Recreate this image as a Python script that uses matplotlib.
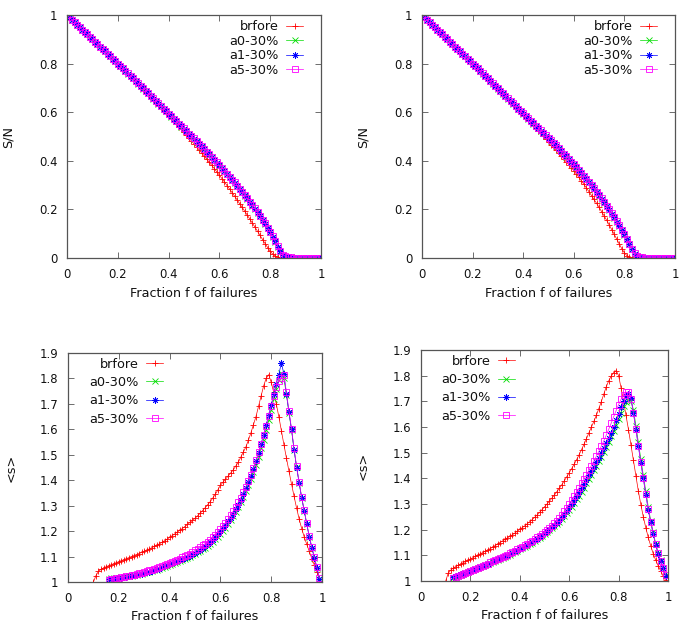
import numpy as np
import matplotlib
matplotlib.use("Agg")
import matplotlib.pyplot as plt
from matplotlib.ticker import FormatStrFormatter

# griglia delle frazioni f (passo 0.01)
frac = np.round(np.arange(0, 101) / 100, 2)

labels = ["brfore", "a0-30%", "a1-30%", "a5-30%"]

# ---- S/N, pannello in alto a sinistra
tl_brfore = [1.000, 0.990, 0.980, 0.970, 0.960, 0.950, 0.940, 0.930, 0.920, 0.910,
             0.900, 0.890, 0.880, 0.870, 0.860, 0.850, 0.840, 0.830, 0.820, 0.809,
             0.799, 0.789, 0.779, 0.768, 0.758, 0.748, 0.737, 0.727, 0.716, 0.706,
             0.695, 0.685, 0.674, 0.663, 0.653, 0.642, 0.631, 0.620, 0.609, 0.598,
             0.587, 0.575, 0.564, 0.553, 0.541, 0.530, 0.518, 0.506, 0.494, 0.482,
             0.470, 0.458, 0.445, 0.433, 0.420, 0.407, 0.394, 0.381, 0.368, 0.354,
             0.341, 0.327, 0.313, 0.298, 0.284, 0.269, 0.254, 0.239, 0.223, 0.208,
             0.192, 0.176, 0.160, 0.143, 0.127, 0.110, 0.093, 0.076, 0.059, 0.043,
             0.028, 0.016, 0.008, 0.004, 0.002, 0.001, 0.001, 0.000, 0.000, 0.000,
             0.000, 0.000, 0.000, 0.000, 0.000, 0.000, 0.000, 0.000, 0.000, 0.000, 0.000]
tl_a0 = [1.000, 0.990, 0.980, 0.970, 0.960, 0.950, 0.940, 0.930, 0.920, 0.910,
         0.900, 0.890, 0.880, 0.870, 0.860, 0.850, 0.840, 0.830, 0.820, 0.810,
         0.800, 0.790, 0.780, 0.769, 0.759, 0.749, 0.739, 0.728, 0.718, 0.708,
         0.697, 0.687, 0.677, 0.666, 0.656, 0.645, 0.635, 0.624, 0.614, 0.603,
         0.593, 0.582, 0.572, 0.562, 0.551, 0.541, 0.531, 0.521, 0.510, 0.500,
         0.490, 0.479, 0.469, 0.458, 0.447, 0.436, 0.425, 0.414, 0.403, 0.392,
         0.380, 0.369, 0.357, 0.345, 0.333, 0.321, 0.309, 0.296, 0.283, 0.270,
         0.257, 0.244, 0.230, 0.216, 0.202, 0.187, 0.172, 0.156, 0.140, 0.123,
         0.105, 0.087, 0.067, 0.046, 0.026, 0.012, 0.006, 0.004, 0.003, 0.002,
         0.002, 0.001, 0.001, 0.001, 0.001, 0.001, 0.000, 0.000, 0.000, 0.000, 0.000]
tl_a1 = [1.000, 0.990, 0.980, 0.970, 0.960, 0.950, 0.940, 0.930, 0.920, 0.910,
         0.900, 0.890, 0.880, 0.870, 0.860, 0.850, 0.840, 0.830, 0.820, 0.810,
         0.800, 0.790, 0.780, 0.770, 0.759, 0.749, 0.739, 0.729, 0.718, 0.708,
         0.698, 0.687, 0.677, 0.667, 0.656, 0.646, 0.635, 0.625, 0.614, 0.604,
         0.593, 0.583, 0.573, 0.563, 0.552, 0.542, 0.532, 0.522, 0.511, 0.501,
         0.491, 0.481, 0.470, 0.459, 0.448, 0.437, 0.426, 0.415, 0.404, 0.393,
         0.381, 0.370, 0.358, 0.346, 0.334, 0.322, 0.310, 0.297, 0.284, 0.271,
         0.258, 0.245, 0.231, 0.217, 0.203, 0.188, 0.173, 0.157, 0.141, 0.124,
         0.106, 0.088, 0.068, 0.047, 0.027, 0.012, 0.006, 0.004, 0.003, 0.002,
         0.002, 0.001, 0.001, 0.001, 0.001, 0.001, 0.001, 0.000, 0.000, 0.000, 0.000]
tl_a5 = [1.000, 0.990, 0.980, 0.970, 0.960, 0.950, 0.940, 0.930, 0.920, 0.910,
         0.900, 0.890, 0.880, 0.870, 0.860, 0.850, 0.840, 0.830, 0.820, 0.810,
         0.800, 0.790, 0.780, 0.770, 0.760, 0.750, 0.740, 0.729, 0.719, 0.709,
         0.699, 0.688, 0.678, 0.668, 0.657, 0.647, 0.636, 0.626, 0.615, 0.605,
         0.594, 0.584, 0.574, 0.564, 0.553, 0.543, 0.533, 0.523, 0.512, 0.502,
         0.492, 0.482, 0.471, 0.460, 0.449, 0.438, 0.427, 0.416, 0.405, 0.394,
         0.382, 0.371, 0.359, 0.347, 0.335, 0.323, 0.311, 0.298, 0.285, 0.272,
         0.259, 0.246, 0.232, 0.218, 0.204, 0.189, 0.174, 0.158, 0.142, 0.125,
         0.107, 0.089, 0.069, 0.048, 0.028, 0.013, 0.007, 0.004, 0.003, 0.002,
         0.002, 0.002, 0.001, 0.001, 0.001, 0.001, 0.001, 0.001, 0.000, 0.000, 0.000]

# ---- S/N, pannello in alto a destra
tr_brfore = [1.000, 0.990, 0.980, 0.970, 0.960, 0.950, 0.940, 0.930, 0.920, 0.910,
             0.900, 0.890, 0.880, 0.870, 0.860, 0.850, 0.840, 0.830, 0.820, 0.810,
             0.800, 0.789, 0.779, 0.769, 0.759, 0.748, 0.738, 0.728, 0.717, 0.707,
             0.697, 0.686, 0.676, 0.665, 0.654, 0.644, 0.633, 0.622, 0.612, 0.601,
             0.590, 0.579, 0.568, 0.557, 0.546, 0.535, 0.524, 0.513, 0.502, 0.490,
             0.479, 0.467, 0.456, 0.444, 0.432, 0.420, 0.408, 0.396, 0.384, 0.372,
             0.360, 0.346, 0.332, 0.318, 0.303, 0.288, 0.273, 0.257, 0.241, 0.225,
             0.208, 0.191, 0.173, 0.155, 0.136, 0.117, 0.097, 0.077, 0.057, 0.038,
             0.021, 0.010, 0.004, 0.002, 0.001, 0.000, 0.000, 0.000, 0.000, 0.000,
             0.000, 0.000, 0.000, 0.000, 0.000, 0.000, 0.000, 0.000, 0.000, 0.000, 0.000]
tr_a0 = [1.000, 0.990, 0.980, 0.970, 0.960, 0.950, 0.940, 0.930, 0.920, 0.910,
         0.900, 0.890, 0.880, 0.870, 0.860, 0.850, 0.840, 0.830, 0.820, 0.810,
         0.800, 0.790, 0.780, 0.769, 0.759, 0.749, 0.739, 0.728, 0.718, 0.708,
         0.697, 0.687, 0.676, 0.666, 0.655, 0.645, 0.634, 0.624, 0.613, 0.603,
         0.593, 0.583, 0.573, 0.563, 0.553, 0.543, 0.533, 0.523, 0.513, 0.503,
         0.493, 0.482, 0.472, 0.461, 0.450, 0.439, 0.428, 0.417, 0.406, 0.395,
         0.384, 0.372, 0.360, 0.348, 0.336, 0.324, 0.311, 0.298, 0.285, 0.271,
         0.257, 0.243, 0.228, 0.213, 0.198, 0.182, 0.166, 0.149, 0.132, 0.114,
         0.096, 0.077, 0.057, 0.036, 0.017, 0.008, 0.004, 0.003, 0.002, 0.001,
         0.001, 0.001, 0.001, 0.001, 0.000, 0.000, 0.000, 0.000, 0.000, 0.000, 0.000]
tr_a1 = [1.000, 0.990, 0.980, 0.970, 0.960, 0.950, 0.940, 0.930, 0.920, 0.910,
         0.900, 0.890, 0.880, 0.870, 0.860, 0.850, 0.840, 0.830, 0.820, 0.810,
         0.800, 0.790, 0.780, 0.770, 0.759, 0.749, 0.739, 0.729, 0.718, 0.708,
         0.698, 0.687, 0.677, 0.667, 0.656, 0.646, 0.635, 0.625, 0.614, 0.604,
         0.594, 0.584, 0.574, 0.564, 0.554, 0.544, 0.534, 0.524, 0.514, 0.504,
         0.494, 0.483, 0.473, 0.462, 0.451, 0.440, 0.429, 0.418, 0.407, 0.396,
         0.385, 0.373, 0.361, 0.349, 0.337, 0.325, 0.312, 0.299, 0.286, 0.272,
         0.258, 0.244, 0.229, 0.214, 0.199, 0.183, 0.167, 0.150, 0.133, 0.115,
         0.097, 0.078, 0.058, 0.037, 0.018, 0.008, 0.004, 0.003, 0.002, 0.002,
         0.001, 0.001, 0.001, 0.001, 0.001, 0.000, 0.000, 0.000, 0.000, 0.000, 0.000]
tr_a5 = [1.000, 0.990, 0.980, 0.970, 0.960, 0.950, 0.940, 0.930, 0.920, 0.910,
         0.900, 0.890, 0.880, 0.870, 0.860, 0.850, 0.840, 0.830, 0.820, 0.810,
         0.800, 0.790, 0.780, 0.770, 0.760, 0.750, 0.740, 0.729, 0.719, 0.709,
         0.699, 0.688, 0.678, 0.668, 0.657, 0.647, 0.636, 0.626, 0.615, 0.605,
         0.595, 0.585, 0.575, 0.565, 0.555, 0.545, 0.535, 0.525, 0.515, 0.505,
         0.495, 0.484, 0.474, 0.463, 0.452, 0.441, 0.430, 0.419, 0.408, 0.397,
         0.386, 0.374, 0.362, 0.350, 0.338, 0.326, 0.313, 0.300, 0.287, 0.273,
         0.259, 0.245, 0.230, 0.215, 0.200, 0.184, 0.168, 0.151, 0.134, 0.116,
         0.098, 0.079, 0.059, 0.038, 0.019, 0.009, 0.005, 0.003, 0.002, 0.002,
         0.002, 0.001, 0.001, 0.001, 0.001, 0.001, 0.000, 0.000, 0.000, 0.000, 0.000]

# ---- <s>, pannello in basso a sinistra (brfore da f=0.10, gli altri da f=0.16)
bl_brfore = [1.000, 1.025, 1.042, 1.050, 1.055, 1.060, 1.064, 1.068, 1.072, 1.076,
             1.080, 1.084, 1.088, 1.092, 1.096, 1.100, 1.104, 1.108, 1.112, 1.116,
             1.120, 1.125, 1.130, 1.135, 1.140, 1.145, 1.150, 1.156, 1.162, 1.168,
             1.175, 1.182, 1.189, 1.196, 1.203, 1.210, 1.218, 1.226, 1.234, 1.242,
             1.250, 1.260, 1.270, 1.281, 1.292, 1.304, 1.316, 1.330, 1.345, 1.362,
             1.380, 1.392, 1.404, 1.416, 1.428, 1.440, 1.455, 1.470, 1.490, 1.510,
             1.530, 1.557, 1.586, 1.618, 1.650, 1.690, 1.730, 1.770, 1.800, 1.815,
             1.785, 1.745, 1.700, 1.650, 1.595, 1.540, 1.487, 1.435, 1.385, 1.337,
             1.290, 1.248, 1.210, 1.177, 1.148, 1.120, 1.092, 1.066, 1.040, 1.010]
bl_a0 = [1.012, 1.014, 1.015, 1.016,
         1.017, 1.019, 1.020, 1.022, 1.023, 1.025, 1.027, 1.029, 1.031, 1.033,
         1.035, 1.038, 1.041, 1.043, 1.046, 1.049, 1.052, 1.055, 1.059, 1.063,
         1.066, 1.070, 1.074, 1.078, 1.082, 1.086, 1.090, 1.095, 1.100, 1.105,
         1.110, 1.116, 1.122, 1.128, 1.135, 1.142, 1.150, 1.159, 1.168, 1.178,
         1.189, 1.201, 1.214, 1.228, 1.243, 1.259, 1.276, 1.294, 1.313, 1.334,
         1.356, 1.380, 1.405, 1.432, 1.461, 1.492, 1.525, 1.560, 1.597, 1.636,
         1.676, 1.718, 1.760, 1.795, 1.822, 1.800, 1.735, 1.664, 1.597, 1.520,
         1.452, 1.390, 1.332, 1.280, 1.228, 1.178, 1.135, 1.095, 1.055, 1.012]
bl_a1 = [1.010, 1.012, 1.013, 1.014,
         1.015, 1.017, 1.019, 1.020, 1.022, 1.024, 1.026, 1.028, 1.030, 1.032,
         1.035, 1.038, 1.041, 1.044, 1.047, 1.050, 1.053, 1.057, 1.061, 1.065,
         1.069, 1.073, 1.077, 1.081, 1.085, 1.089, 1.094, 1.099, 1.104, 1.109,
         1.115, 1.121, 1.127, 1.134, 1.141, 1.149, 1.157, 1.166, 1.176, 1.187,
         1.199, 1.211, 1.224, 1.238, 1.253, 1.269, 1.286, 1.304, 1.324, 1.345,
         1.368, 1.392, 1.418, 1.446, 1.476, 1.508, 1.542, 1.578, 1.616, 1.656,
         1.696, 1.738, 1.780, 1.815, 1.862, 1.817, 1.740, 1.667, 1.600, 1.520,
         1.450, 1.390, 1.330, 1.280, 1.227, 1.177, 1.135, 1.095, 1.055, 1.013]
bl_a5 = [1.008, 1.011, 1.013, 1.015,
         1.017, 1.019, 1.021, 1.023, 1.025, 1.027, 1.029, 1.031, 1.034, 1.037,
         1.040, 1.043, 1.046, 1.049, 1.052, 1.056, 1.060, 1.064, 1.068, 1.072,
         1.076, 1.080, 1.084, 1.088, 1.092, 1.097, 1.102, 1.107, 1.112, 1.118,
         1.124, 1.130, 1.137, 1.144, 1.151, 1.159, 1.167, 1.176, 1.186, 1.197,
         1.208, 1.220, 1.233, 1.247, 1.262, 1.278, 1.295, 1.313, 1.332, 1.352,
         1.374, 1.397, 1.422, 1.449, 1.478, 1.509, 1.542, 1.577, 1.614, 1.652,
         1.690, 1.730, 1.768, 1.790, 1.800, 1.815, 1.745, 1.672, 1.603, 1.525,
         1.455, 1.393, 1.333, 1.282, 1.230, 1.180, 1.137, 1.097, 1.057, 1.015]

# ---- <s>, pannello in basso a destra (brfore da f=0.10, gli altri da f=0.13)
br_brfore = [1.000, 1.030, 1.042, 1.050, 1.056, 1.061, 1.066, 1.071, 1.076, 1.081,
             1.086, 1.091, 1.096, 1.101, 1.106, 1.111, 1.116, 1.121, 1.126, 1.132,
             1.138, 1.144, 1.150, 1.156, 1.162, 1.168, 1.174, 1.180, 1.187, 1.194,
             1.201, 1.208, 1.215, 1.223, 1.231, 1.239, 1.248, 1.257, 1.267, 1.278,
             1.289, 1.300, 1.311, 1.323, 1.335, 1.348, 1.361, 1.375, 1.390, 1.406,
             1.422, 1.438, 1.455, 1.473, 1.492, 1.512, 1.533, 1.555, 1.578, 1.600,
             1.622, 1.646, 1.672, 1.699, 1.728, 1.757, 1.780, 1.798, 1.812, 1.820,
             1.800, 1.752, 1.700, 1.645, 1.590, 1.530, 1.470, 1.410, 1.350, 1.298,
             1.250, 1.208, 1.170, 1.137, 1.107, 1.082, 1.060, 1.040, 1.020, 1.003]
br_a0 = [1.012, 1.016, 1.020, 1.024, 1.027, 1.031, 1.035,
         1.039, 1.043, 1.047, 1.051, 1.055, 1.059, 1.063, 1.067, 1.071, 1.075,
         1.079, 1.083, 1.087, 1.091, 1.095, 1.099, 1.103, 1.108, 1.113, 1.118,
         1.123, 1.128, 1.133, 1.138, 1.144, 1.150, 1.156, 1.162, 1.169, 1.176,
         1.183, 1.190, 1.197, 1.205, 1.213, 1.222, 1.231, 1.241, 1.252, 1.264,
         1.277, 1.290, 1.304, 1.318, 1.333, 1.348, 1.364, 1.380, 1.397, 1.414,
         1.431, 1.448, 1.466, 1.484, 1.503, 1.522, 1.542, 1.563, 1.585, 1.608,
         1.632, 1.656, 1.680, 1.698, 1.705, 1.702, 1.668, 1.605, 1.540, 1.475,
         1.412, 1.350, 1.290, 1.235, 1.190, 1.146, 1.110, 1.080, 1.050, 1.022]
br_a1 = [1.015, 1.019, 1.022, 1.026, 1.029, 1.032, 1.036,
         1.040, 1.044, 1.048, 1.052, 1.056, 1.060, 1.064, 1.068, 1.072, 1.076,
         1.080, 1.084, 1.088, 1.092, 1.096, 1.100, 1.105, 1.110, 1.115, 1.120,
         1.125, 1.130, 1.135, 1.141, 1.147, 1.153, 1.159, 1.165, 1.172, 1.179,
         1.186, 1.193, 1.201, 1.209, 1.218, 1.227, 1.237, 1.248, 1.260, 1.273,
         1.287, 1.301, 1.316, 1.331, 1.347, 1.363, 1.379, 1.395, 1.412, 1.429,
         1.446, 1.463, 1.480, 1.498, 1.517, 1.536, 1.556, 1.578, 1.601, 1.626,
         1.652, 1.678, 1.703, 1.722, 1.728, 1.712, 1.655, 1.590, 1.525, 1.460,
         1.400, 1.337, 1.277, 1.228, 1.184, 1.141, 1.106, 1.077, 1.049, 1.020]
br_a5 = [1.010, 1.015, 1.019, 1.023, 1.027, 1.031, 1.035,
         1.039, 1.043, 1.047, 1.051, 1.055, 1.059, 1.063, 1.068, 1.073, 1.078,
         1.083, 1.087, 1.091, 1.095, 1.099, 1.103, 1.108, 1.113, 1.118, 1.123,
         1.128, 1.133, 1.139, 1.145, 1.151, 1.157, 1.163, 1.170, 1.177, 1.184,
         1.191, 1.199, 1.207, 1.216, 1.225, 1.235, 1.246, 1.258, 1.271, 1.285,
         1.300, 1.315, 1.331, 1.347, 1.363, 1.380, 1.397, 1.414, 1.432, 1.450,
         1.468, 1.486, 1.505, 1.525, 1.546, 1.568, 1.591, 1.615, 1.640, 1.664,
         1.687, 1.708, 1.725, 1.735, 1.737, 1.710, 1.655, 1.592, 1.527, 1.462,
         1.402, 1.339, 1.280, 1.230, 1.186, 1.143, 1.108, 1.079, 1.051, 1.022]

sn_ticks = [0, 0.2, 0.4, 0.6, 0.8, 1]
s_ticks = [1, 1.1, 1.2, 1.3, 1.4, 1.5, 1.6, 1.7, 1.8, 1.9]
x_ticks = [0, 0.2, 0.4, 0.6, 0.8, 1]

# stile gnuplot: colori e simboli di default
colors = ["#ff0000", "#00dd00", "#0000ff", "#ff00ff"]
markers = ["+", "x", (8, 2, 0), "s"]
msizes = [4.8, 4.0, 4.5, 4.3]

fig = plt.figure(figsize=(6.83, 6.31), dpi=100)
W, H = 683.0, 631.0


def make_ax(l, r, t, b):
    return fig.add_axes([l / W, 1 - b / H, (r - l) / W, (b - t) / H])


def style(ax, yticks, ylim, ylab, ylab_x, xlab_y):
    ax.set_xlim(0, 1)
    ax.set_ylim(*ylim)
    ax.set_xticks(x_ticks)
    ax.set_yticks(yticks)
    ax.xaxis.set_major_formatter(FormatStrFormatter("%g"))
    ax.yaxis.set_major_formatter(FormatStrFormatter("%g"))
    ax.tick_params(direction="in", length=4, width=0.6, top=True, right=True,
                   pad=7, labelsize=8.4, color="#555555", labelcolor="#111111")
    for sp in ax.spines.values():
        sp.set_color("#555555")
        sp.set_linewidth(0.9)
    ax.set_xlabel("Fraction f of failures", fontsize=9.2, color="#111111")
    ax.set_ylabel(ylab, fontsize=9.2, color="#111111")
    ax.yaxis.set_label_coords(ylab_x, 0.5)
    ax.xaxis.set_label_coords(0.5, xlab_y)


def draw(ax, xs, series):
    for x, y, lab, c, m, ms in zip(xs, series, labels, colors, markers, msizes):
        ax.plot(x, y, color=c, lw=0.5, marker=m, ms=ms, mew=0.6,
                mfc="none", label=lab, clip_on=True)


def legend(ax, anchor, spacing):
    ax.legend(loc="upper right", bbox_to_anchor=anchor, frameon=False,
              markerfirst=False, handlelength=1.3, handletextpad=0.6,
              labelspacing=spacing, borderaxespad=0, borderpad=0,
              fontsize=9.3, labelcolor="#111111")


ax1 = make_ax(67, 321, 15, 258)
draw(ax1, [frac] * 4, [tl_brfore, tl_a0, tl_a1, tl_a5])
style(ax1, sn_ticks, (0, 1), "S/N", -0.205, -0.119)
legend(ax1, (0.93, 0.978), 0.12)

ax2 = make_ax(422, 675, 15, 258)
draw(ax2, [frac] * 4, [tr_brfore, tr_a0, tr_a1, tr_a5])
style(ax2, sn_ticks, (0, 1), "S/N", -0.206, -0.119)
legend(ax2, (0.929, 0.978), 0.12)

ax3 = make_ax(68, 322, 353, 582)
draw(ax3, [frac[10:100], frac[16:100], frac[16:100], frac[16:100]],
     [bl_brfore, bl_a0, bl_a1, bl_a5])
style(ax3, s_ticks, (1, 1.9), "<s>", -0.2, -0.122)
legend(ax3, (0.374, 0.98), 0.42)

ax4 = make_ax(421, 668, 350, 581)
draw(ax4, [frac[10:100], frac[13:100], frac[13:100], frac[13:100]],
     [br_brfore, br_a0, br_a1, br_a5])
style(ax4, s_ticks, (1, 1.9), "<s>", -0.206, -0.122)
legend(ax4, (0.38, 0.98), 0.42)

fig.savefig("out.png", dpi=100)
